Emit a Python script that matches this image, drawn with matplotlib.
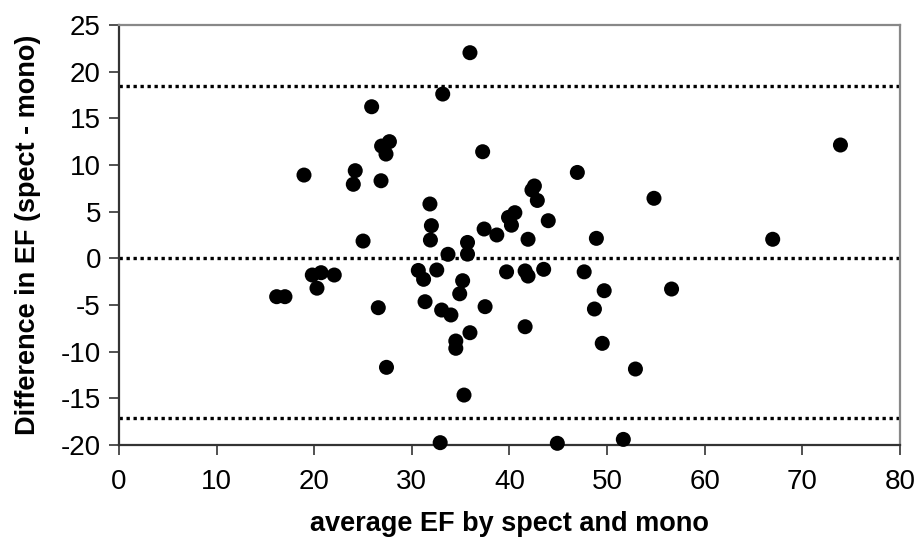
import matplotlib
matplotlib.use("Agg")
import matplotlib.pyplot as plt

plt.rcParams['font.family'] = ['Liberation Sans', 'DejaVu Sans']
plt.rcParams['axes.unicode_minus'] = False

# Bland-Altman data: average EF vs difference (spect - mono)
avg_ef = [16.15, 17.0, 18.95, 19.8, 20.7, 20.28, 22.05, 24.2, 24.0, 25.0,
          25.88, 26.56, 26.84, 26.9, 27.35, 27.7, 27.4, 30.66, 31.2, 31.35,
          31.85, 32.0, 31.9, 32.55, 32.9, 33.05, 33.16, 33.7, 34.0, 34.5,
          34.5, 34.9, 35.2, 35.34, 35.7, 35.7, 35.95, 35.95, 37.25, 37.4,
          37.5, 38.7, 39.7, 39.9, 40.2, 40.55, 41.6, 41.6, 41.9, 41.9,
          42.3, 42.55, 42.85, 43.5, 43.97, 44.9, 46.95, 47.65, 48.7, 48.9,
          49.5, 49.7, 51.66, 52.9, 54.8, 56.6, 66.96, 73.9]
diff_ef = [-4.11, -4.11, 8.92, -1.79, -1.54, -3.2, -1.79, 9.39, 7.93, 1.85,
           16.24, -5.29, 8.31, 12.03, 11.17, 12.5, -11.68, -1.3, -2.25, -4.65,
           5.82, 3.5, 1.96, -1.25, -19.75, -5.54, 17.6, 0.43, -6.07, -8.86,
           -9.64, -3.8, -2.4, -14.65, 1.7, 0.45, 22.03, -7.97, 11.42, 3.14,
           -5.18, 2.5, -1.45, 4.39, 3.55, 4.89, -1.35, -7.33, -1.9, 2.04,
           7.32, 7.75, 6.2, -1.18, 4.03, -19.82, 9.2, -1.45, -5.43, 2.14,
           -9.11, -3.47, -19.4, -11.86, 6.43, -3.29, 2.04, 12.14]

mean_diff = 0.0
upper_loa = 18.45
lower_loa = -17.15

x_ticks = list(range(0, 81, 10))
y_ticks = list(range(-20, 26, 5))

fig = plt.figure(figsize=(9.21, 5.55), dpi=100)
ax = fig.add_axes([0.1292, 0.1982, 0.848, 0.7568])

for yv in [upper_loa, mean_diff, lower_loa]:
    ax.axhline(yv, color='black', lw=2.4, linestyle=(0, (1, 1.1)), zorder=2)

ax.scatter(avg_ef, diff_ef, s=117, color='black', edgecolors='none',
           zorder=5, clip_on=False)

ax.set_xlim(0, 80)
ax.set_ylim(-20, 25)
ax.set_xticks(x_ticks)
ax.set_yticks(y_ticks)
ax.tick_params(axis='both', labelsize=20, length=7, width=1.2,
               color='#333333', direction='out')
ax.tick_params(axis='x', pad=10)
ax.tick_params(axis='y', pad=6)

for side in ['left', 'bottom']:
    ax.spines[side].set_color('#333333')
    ax.spines[side].set_linewidth(1.6)
for side in ['top', 'right']:
    ax.spines[side].set_color('#888888')
    ax.spines[side].set_linewidth(1.6)

ax.set_xlabel('average EF by spect and mono', fontsize=19.5,
              fontweight='bold', labelpad=12)
ax.set_ylabel('Difference in EF (spect - mono)', fontsize=19.5,
              fontweight='bold', labelpad=14)

fig.savefig('out.png', dpi=100)
